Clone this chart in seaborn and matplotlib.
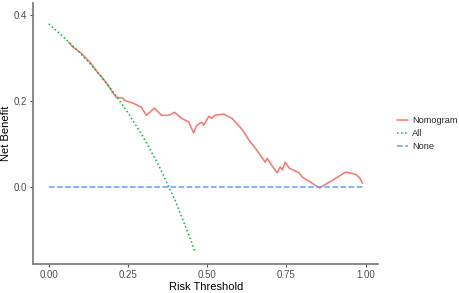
import seaborn as sns
import matplotlib.pyplot as plt
import pandas as pd

# decision curve values
nomo_t = [0.063, 0.076, 0.102, 0.133, 0.156, 0.171, 0.187, 0.203, 0.213, 0.235, 0.238,
          0.267, 0.292, 0.308, 0.333, 0.356, 0.378, 0.397, 0.419, 0.441, 0.457, 0.467,
          0.483, 0.489, 0.505, 0.514, 0.524, 0.552, 0.578, 0.603, 0.616, 0.632, 0.651,
          0.663, 0.683, 0.689, 0.705, 0.721, 0.730, 0.737, 0.746, 0.759, 0.790, 0.800,
          0.825, 0.854, 0.895, 0.937, 0.968, 0.981, 0.990]
nomo_nb = [0.337, 0.326, 0.312, 0.288, 0.265, 0.253, 0.237, 0.219, 0.209, 0.207, 0.202,
           0.195, 0.186, 0.167, 0.184, 0.167, 0.167, 0.174, 0.160, 0.152, 0.126, 0.144,
           0.151, 0.144, 0.165, 0.160, 0.167, 0.170, 0.160, 0.140, 0.128, 0.109, 0.091,
           0.079, 0.058, 0.067, 0.049, 0.033, 0.047, 0.040, 0.058, 0.044, 0.033, 0.023,
           0.012, -0.002, 0.016, 0.035, 0.030, 0.021, 0.009]
all_t = [0.00, 0.05, 0.10, 0.15, 0.20, 0.25, 0.30, 0.35, 0.40, 0.45, 0.46]
all_nb = [0.380, 0.347, 0.311, 0.271, 0.225, 0.173, 0.114, 0.046, -0.033, -0.127, -0.148]
none_t = [0.00, 0.99]
none_nb = [0.0, 0.0]

labels = ["Nomogram", "All", "None"]
colors = ["#F8766D", "#00BA38", "#619CFF"]
styles = ["-", ":", "--"]

df = pd.concat([
    pd.DataFrame({"thr": nomo_t, "nb": nomo_nb, "model": "Nomogram"}),
    pd.DataFrame({"thr": all_t, "nb": all_nb, "model": "All"}),
    pd.DataFrame({"thr": none_t, "nb": none_nb, "model": "None"}),
])

sns.set_style("ticks")
plt.rcParams["font.family"] = ["Liberation Sans", "DejaVu Sans"]

fig = plt.figure(figsize=(4.59, 2.93), dpi=100)
ax = fig.add_axes([0.072, 0.099, 0.752, 0.89])

for lab, col, ls in zip(labels, colors, styles):
    sns.lineplot(data=df[df.model == lab], x="thr", y="nb", color=col,
                 linestyle=ls, linewidth=1.1, label=lab, ax=ax, sort=False)

ax.set_xlim(-0.0495, 1.0395)
ax.set_ylim(-0.179, 0.428)
ax.set_xticks([0, 0.25, 0.5, 0.75, 1.0])
ax.set_xticklabels(["0.00", "0.25", "0.50", "0.75", "1.00"])
ax.set_yticks([0.0, 0.2, 0.4])
ax.set_yticklabels(["0.0", "0.2", "0.4"])
ax.set_xlabel("Risk Threshold", fontsize=8, color="black", labelpad=1)
ax.set_ylabel("Net Benefit", fontsize=8, color="black", labelpad=2)
ax.tick_params(labelsize=7, colors="#4D4D4D", length=2.5, width=0.8, pad=2)
for t in ax.get_xticklabels() + ax.get_yticklabels():
    t.set_color("#4D4D4D")
sns.despine(ax=ax)
for s in ["left", "bottom"]:
    ax.spines[s].set_color("#808080")
    ax.spines[s].set_linewidth(1.3)

ax.legend(loc="center left", bbox_to_anchor=(1.03, 0.5), frameon=False,
          fontsize=6.6, handlelength=1.2, handletextpad=0.5, labelspacing=0.45)

fig.savefig("out.png", dpi=100)
